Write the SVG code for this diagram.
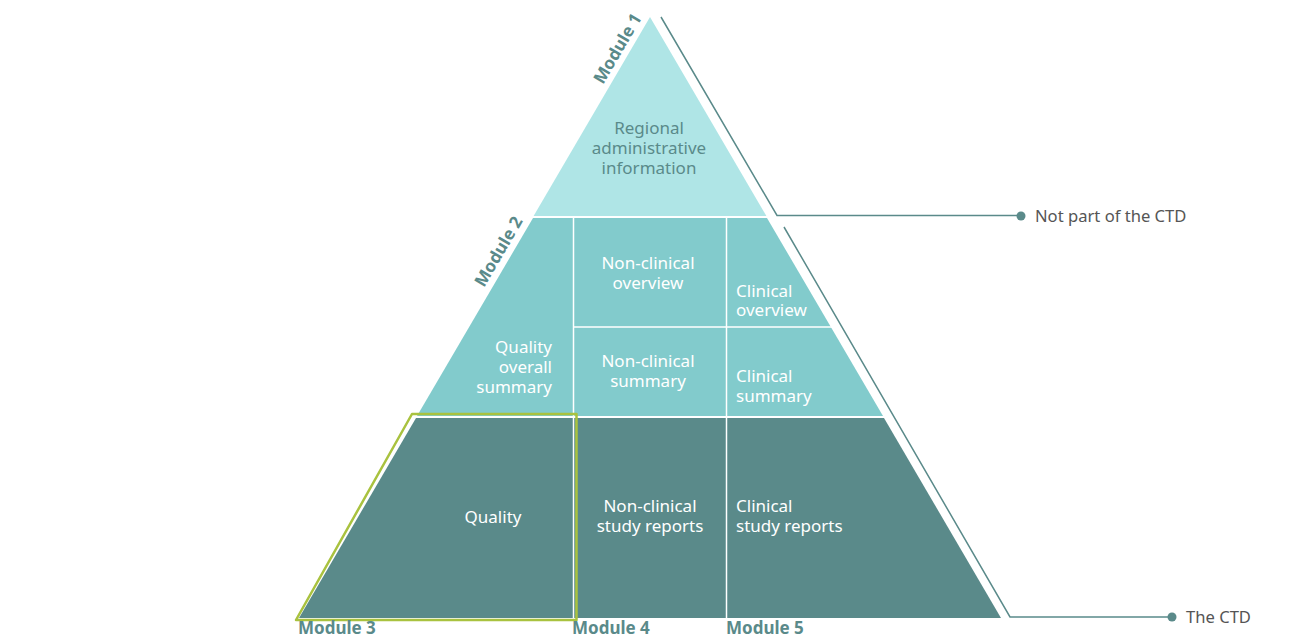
<svg xmlns="http://www.w3.org/2000/svg" width="1299" height="637" viewBox="0 0 1299 637">
<style>
text{font-family:"Noto Sans","Open Sans","Liberation Sans",sans-serif;font-size:17px}
.w{fill:#ffffff}
.g{fill:#5A8A8A}
.mod{fill:#5A8A8A;font-weight:bold;font-size:17px}
.side{fill:#555555;font-size:16.6px}
.div{stroke:#ffffff;stroke-width:1.5;fill:none}
.conn{stroke:#5A8A8A;stroke-width:1.5;fill:none}
</style>
<rect width="1299" height="637" fill="#ffffff"/>
<g id="module1">
<polygon points="650,17 533.6,216 766.4,216" fill="#AFE5E6"/>
<text class="g" text-anchor="middle"><tspan x="649" y="134">Regional</tspan><tspan x="649" y="154">administrative</tspan><tspan x="649" y="174">information</tspan></text>
<text class="mod" transform="translate(603,85) rotate(-59.7)">Module 1</text>
</g>
<g id="module2">
<polygon points="533,218 767,218 883,416 417,416" fill="#82CBCC"/>
<line class="div" x1="573.5" y1="218" x2="573.5" y2="416"/>
<line class="div" x1="726.5" y1="218" x2="726.5" y2="416"/>
<line class="div" x1="573.5" y1="327" x2="832" y2="327"/>
<text class="w" text-anchor="end"><tspan x="552" y="353">Quality</tspan><tspan x="552" y="373">overall</tspan><tspan x="552" y="393">summary</tspan></text>
<text class="w" text-anchor="middle"><tspan x="648" y="269">Non-clinical</tspan><tspan x="648" y="289">overview</tspan></text>
<text class="w" text-anchor="middle"><tspan x="648" y="367">Non-clinical</tspan><tspan x="648" y="387">summary</tspan></text>
<text class="w"><tspan x="736" y="297">Clinical</tspan><tspan x="736" y="316">overview</tspan></text>
<text class="w"><tspan x="736" y="382">Clinical</tspan><tspan x="736" y="402">summary</tspan></text>
<text class="mod" transform="translate(484,288) rotate(-59.7)">Module 2</text>
</g>
<g id="modules345">
<polygon points="416,418 884,418 1001,618 299,618" fill="#5A8A8A"/>
<line class="div" x1="573.5" y1="418" x2="573.5" y2="618"/>
<line class="div" x1="726.5" y1="418" x2="726.5" y2="618"/>
<text class="w" text-anchor="middle" x="493" y="523">Quality</text>
<text class="w" text-anchor="middle"><tspan x="650" y="512">Non-clinical</tspan><tspan x="650" y="532">study reports</tspan></text>
<text class="w"><tspan x="736" y="512">Clinical</tspan><tspan x="736" y="532">study reports</tspan></text>
<polygon points="296,620 412,414 576.5,414 576.5,620" fill="none" stroke="#A9C23F" stroke-width="2.5" stroke-linejoin="round"/>
<text class="mod" x="298" y="634">Module 3</text>
<text class="mod" x="572" y="634">Module 4</text>
<text class="mod" x="726" y="634">Module 5</text>
</g>
<g id="connectors">
<path class="conn" d="M661,17 L777,215.5 H1021"/>
<circle cx="1021" cy="216" r="4.5" fill="#5A8A8A"/>
<path class="conn" d="M784,227 L1010,617 H1172"/>
<circle cx="1172" cy="617" r="4.5" fill="#5A8A8A"/>
</g>
<g id="labels">
<text class="side" x="1035" y="222">Not part of the CTD</text>
<text class="side" x="1186" y="623">The CTD</text>
</g>
</svg>
